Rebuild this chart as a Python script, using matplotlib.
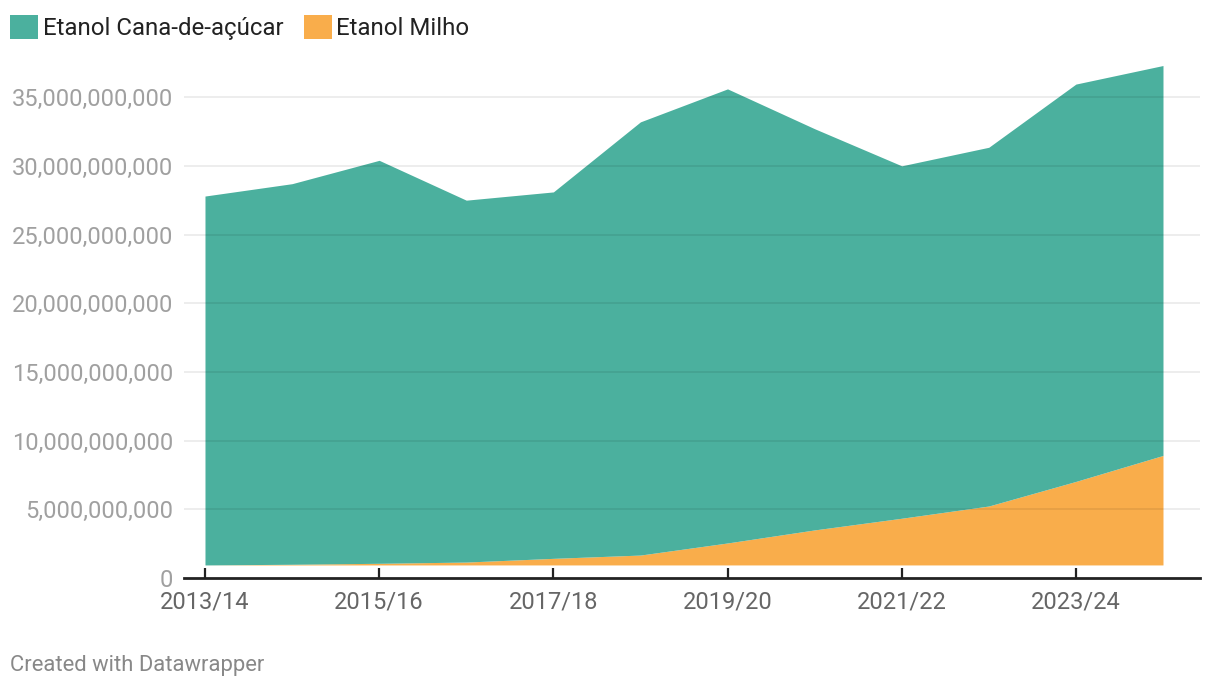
import matplotlib
matplotlib.use("Agg")
import matplotlib.pyplot as plt
from matplotlib.patches import Patch
from matplotlib.ticker import FuncFormatter
import numpy as np

# safras
seasons = ["2013/14", "2014/15", "2015/16", "2016/17", "2017/18", "2018/19",
           "2019/20", "2020/21", "2021/22", "2022/23", "2023/24", "2024/25"]
# topo do empilhamento (cana + milho), litros
total = [27.8e9, 28.7e9, 30.4e9, 27.5e9, 28.1e9, 33.2e9,
         35.6e9, 32.7e9, 30.0e9, 31.35e9, 35.95e9, 37.3e9]
# topo da camada de milho, litros
milho_top = [0.95e9, 1.0e9, 1.07e9, 1.16e9, 1.43e9, 1.67e9,
             2.55e9, 3.5e9, 4.35e9, 5.24e9, 7.03e9, 8.92e9]
# base das áreas
base = 0.95e9

yticks = [0, 5e9, 10e9, 15e9, 20e9, 25e9, 30e9, 35e9]

green = "#4bb09e"
orange = "#f9ad4b"

plt.rcParams['font.family'] = ['Roboto', 'DejaVu Sans']

fig = plt.figure(figsize=(12.2, 6.92), dpi=100)
ax = fig.add_axes([184/1220, 1 - 578/692, (1200 - 184)/1220, (578 - 50)/692])

x = np.arange(len(seasons))
ax.fill_between(x, base, milho_top, color=orange, lw=0, zorder=2)
ax.fill_between(x, milho_top, total, color=green, lw=0, zorder=2)

ax.set_xlim(-0.241, 11.425)
ax.set_ylim(0, 38.43e9)

ax.set_yticks(yticks)
ax.yaxis.set_major_formatter(FuncFormatter(lambda v, p: f"{v:,.0f}"))
ax.tick_params(axis="y", length=0, pad=8, labelsize=17, labelcolor="#a0a0a0")
for v in yticks[1:]:
    ax.axhline(v, color="black", alpha=0.08, lw=1.3, zorder=3)

ax.set_xticks(x[::2])
ax.set_xticklabels(seasons[::2])
ax.tick_params(axis="x", direction="in", length=7, width=1.6, color="#222222",
               pad=9, labelsize=17, labelcolor="#666666")

for s in ["top", "right", "left"]:
    ax.spines[s].set_visible(False)
ax.spines["bottom"].set_color("#222222")
ax.spines["bottom"].set_linewidth(2)
ax.spines["bottom"].set_zorder(4)

handles = [Patch(facecolor=green, edgecolor="none", label="Etanol Cana-de-açúcar"),
           Patch(facecolor=orange, edgecolor="none", label="Etanol Milho")]
fig.legend(handles=handles, loc="upper left", bbox_to_anchor=(10/1220, 1 - 15/692),
           ncol=2, frameon=False, fontsize=17.3, handlelength=1.18, handleheight=1.18,
           handletextpad=0.18, columnspacing=0.85, borderpad=0, borderaxespad=0,
           labelcolor="#222222")

fig.text(10/1220, 1 - 666/692, "Created with Datawrapper", fontsize=15.8,
         color="#888888", va="center", ha="left")

fig.savefig("out.png", dpi=100)
